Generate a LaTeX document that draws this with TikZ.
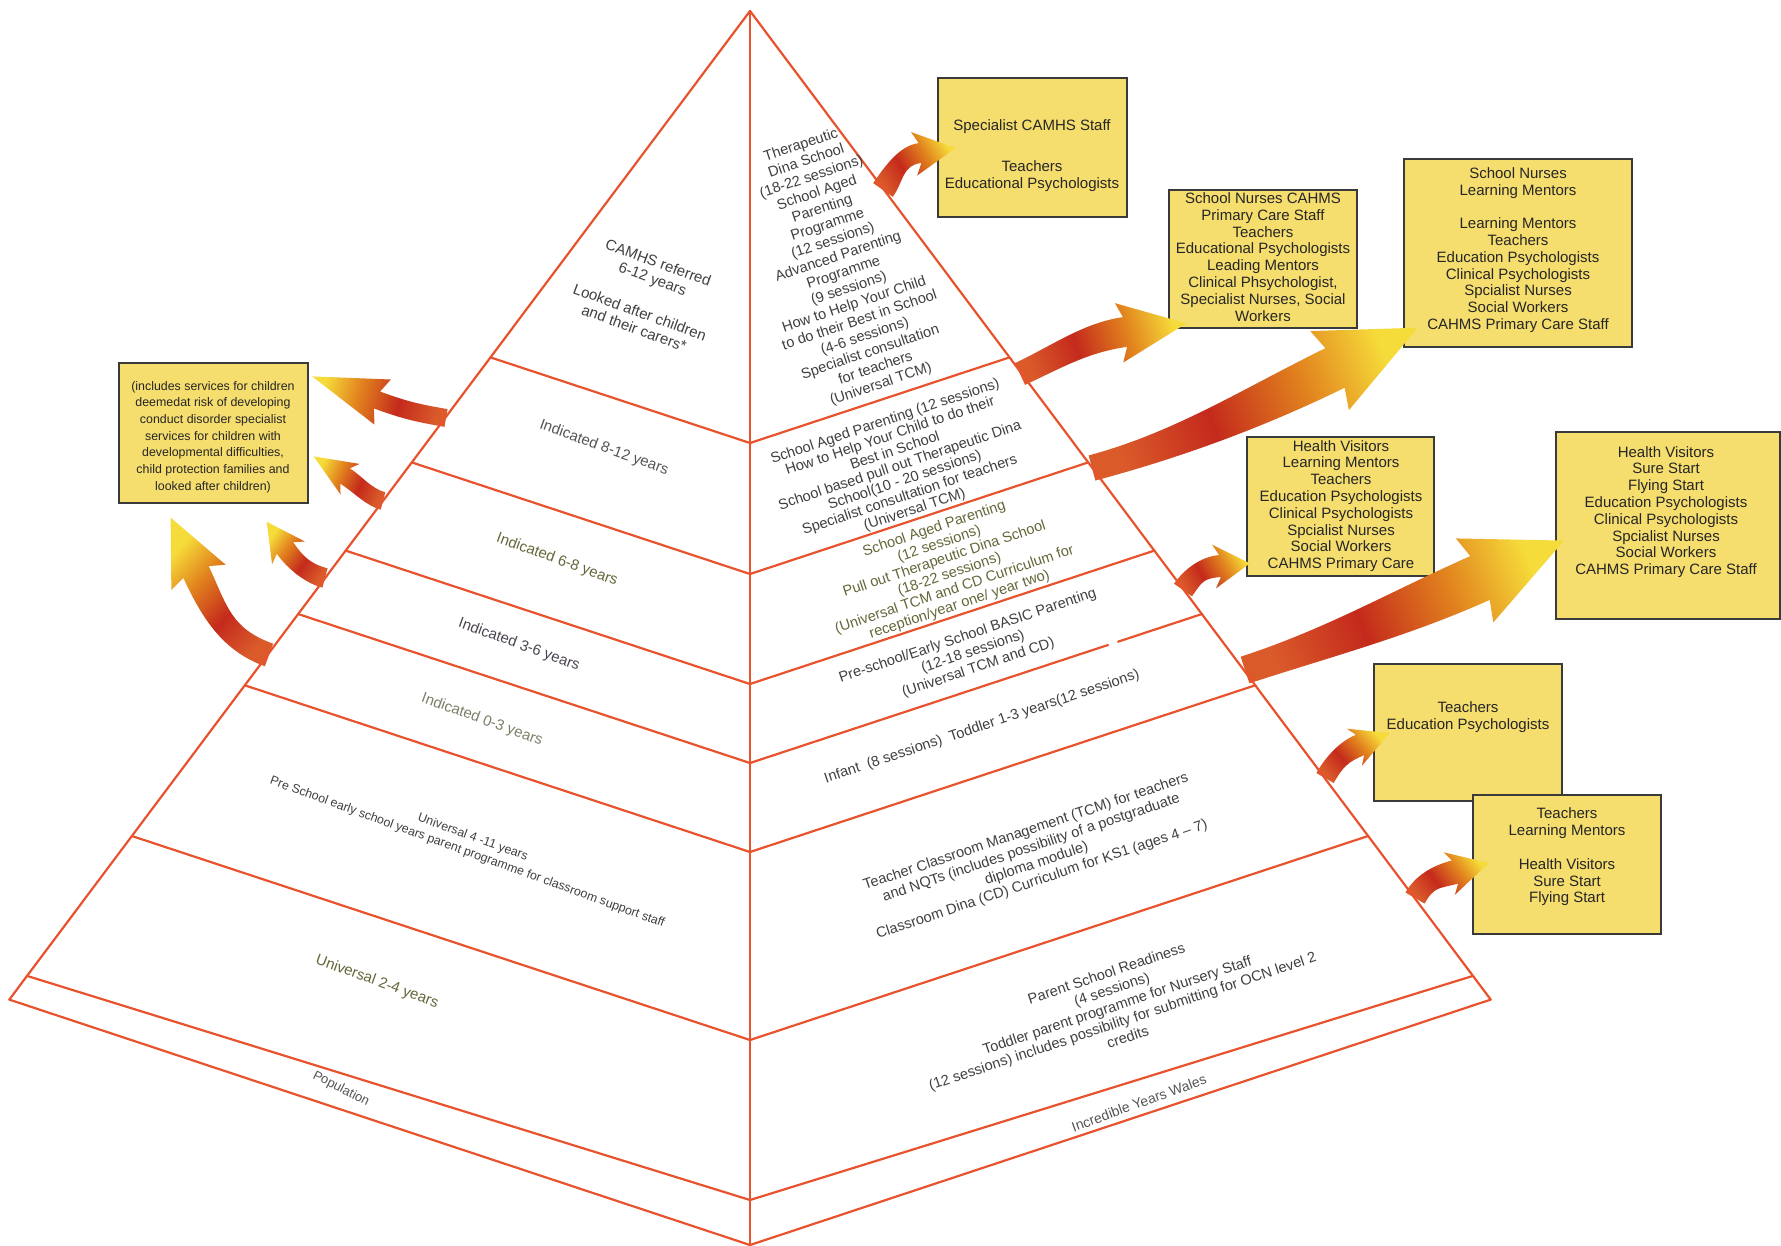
\documentclass[tikz,border=0pt]{standalone}
\usepackage{fontspec}
\setmainfont{Liberation Sans}
\usetikzlibrary{calc}
\definecolor{pyr}{HTML}{E8532E}
\definecolor{boxfill}{HTML}{F5DD6E}
\definecolor{boxline}{HTML}{3A3A3A}
\definecolor{txt}{HTML}{404040}
\definecolor{olivetxt}{HTML}{66663A}
\definecolor{plumtxt}{HTML}{4B4452}
\definecolor{olivegray}{HTML}{7C7F68}
\definecolor{graytxt}{HTML}{555555}
\definecolor{arrbase}{HTML}{DA5A2A}
\definecolor{arrred}{HTML}{C42A1C}
\definecolor{arrorange}{HTML}{E2851E}
\definecolor{arryellow}{HTML}{F6DC3A}
\pgfdeclareverticalshading{arrowshade}{100bp}{color(0bp)=(arrbase); color(25bp)=(arrbase); color(42bp)=(arrred); color(60bp)=(arrorange); color(75bp)=(arryellow); color(100bp)=(arryellow)}
\newcommand\fA{\fontsize{7.5}{8.4}\selectfont}
\newcommand\fR{\fontsize{7.3}{8.4}\selectfont}
\newcommand\cvarrow[9]{%
  \pgfmathsetmacro\shA{-(#2)/2-(#5)/2-90}%
  \shade[shading=arrowshade, shading angle=\shA]
    ($(#1)+(#2-90:#3)$)
    .. controls ($(#1)+(#2:#9)+(#2-90:#3)$) and ($(#4)+(#5+180:#9)+(#5-90:#6)$) ..
    ($(#4)+(#5-90:#6)$)
    -- ($(#4)+(#5-90:#8)+(#5+180:6)$)
    -- ($(#4)+(#5:#7)$)
    -- ($(#4)+(#5+90:#8)+(#5+180:6)$)
    -- ($(#4)+(#5+90:#6)$)
    .. controls ($(#4)+(#5+180:#9)+(#5+90:#6)$) and ($(#1)+(#2:#9)+(#2+90:#3)$) ..
    ($(#1)+(#2+90:#3)$) -- cycle;
}
\begin{document}
\begin{tikzpicture}[x=0.5pt,y=-0.5pt,
  lbl/.style={inner sep=0pt, align=center, text=txt, font=\fA},
  lface/.style={lbl, rotate=-20},
  rface/.style={lbl, rotate=18.5, font=\fR},
  ybox/.style={draw=boxline, fill=boxfill, line width=1.2pt, inner sep=0pt},
  btext/.style={inner sep=0pt, align=center, text=black!85, font=\fA},
  pline/.style={draw=pyr, line width=1.1pt, line cap=round, line join=round}]
\useasboundingbox (0,0) rectangle (1781,1246);
\fill[white] (0,0) rectangle (1781,1246);

% ---------- yellow boxes ----------
\node[ybox, minimum width=94.5pt, minimum height=69.5pt] (boxA) at (1032.5,147.5) {};
\node[btext] (tA) at (1032,156) {Specialist CAMHS Staff\\[12.1pt]Teachers\\Educational Psychologists};
\node[ybox, minimum width=94pt, minimum height=69pt] (boxB) at (1263,259) {};
\node[btext] (tB) at (1263,257) {School Nurses CAHMS\\Primary Care Staff\\Teachers\\Educational Psychologists\\Leading Mentors\\Clinical Phsychologist,\\Specialist Nurses, Social\\Workers};
\node[ybox, minimum width=114pt, minimum height=94pt] (boxC) at (1518,253) {};
\node[btext] (tC) at (1518,250) {School Nurses\\Learning Mentors\\[8.4pt]Learning Mentors\\Teachers\\Education Psychologists\\Clinical Psychologists\\Spcialist Nurses\\Social Workers\\CAHMS Primary Care Staff};
\node[ybox, minimum width=93.5pt, minimum height=69.5pt] (boxD) at (1340.5,506.5) {};
\node[btext] (tD) at (1341,506) {Health Visitors\\Learning Mentors\\Teachers\\Education Psychologists\\Clinical Psychologists\\Spcialist Nurses\\Social Workers\\CAHMS Primary Care};
\node[ybox, minimum width=112pt, minimum height=93.5pt] (boxE) at (1668,525.5) {};
\node[btext] (tE) at (1666,512) {Health Visitors\\Sure Start\\Flying Start\\Education Psychologists\\Clinical Psychologists\\Spcialist Nurses\\Social Workers\\CAHMS Primary Care Staff};
\node[ybox, minimum width=94pt, minimum height=68.5pt] (boxF) at (1468,732.5) {};
\node[btext] (tF) at (1468,717) {Teachers\\Education Psychologists};
\node[ybox, minimum width=94pt, minimum height=69.5pt] (boxG) at (1567,864.5) {};
\node[btext] (tG) at (1567,857) {Teachers\\Learning Mentors\\[8.4pt]Health Visitors\\Sure Start\\Flying Start};
\node[ybox, minimum width=94.5pt, minimum height=70pt] (boxH) at (213.5,433) {};
\node[btext, font=\fontsize{6.2}{8.35}\selectfont] (tH) at (213,437) {(includes services for children\\deemedat risk of developing\\conduct disorder specialist\\services for children with\\developmental difficulties,\\child protection families and\\looked after children)};

% ---------- curved arrows ----------
\cvarrow{883,190}{-55}{12}{920,153}{-8}{10}{36}{22}{20}
\cvarrow{1020,374}{-25}{12}{1125,332}{-8}{15}{62}{30}{40}
\cvarrow{1092,468}{-15}{13}{1335,368}{-26}{22}{92}{44}{90}
\cvarrow{1183,590}{-55}{11}{1220,566}{-5}{11}{30}{22}{18}
\cvarrow{1245,670}{-18}{14}{1480,578}{-24}{24}{92}{46}{90}
\cvarrow{1325,778}{-60}{10}{1360,745}{-22}{11}{32}{20}{18}
\cvarrow{1415,898}{-60}{11}{1455,872}{-15}{12}{35}{22}{20}
\cvarrow{446,418}{190}{9}{377,400}{200}{9}{69}{24}{30}
\cvarrow{383,501}{195}{9}{345,476}{212}{9}{37}{18}{15}
\cvarrow{325,578}{195}{10}{285,548}{235}{10}{32}{20}{18}
\cvarrow{269,655}{200}{12}{196,572}{245}{14}{60}{30}{45}

% ---------- pyramid ----------
\coordinate (apex) at (750,11);
\coordinate (bot) at (750,1246);
\coordinate (Lc) at (9.3,999.6);
\coordinate (Rc) at (1490.7,999.6);
\coordinate (L1) at (490.5,357.4); \coordinate (C1) at (750,443);  \coordinate (R1) at (1009.5,357.4);
\coordinate (L2) at (411.8,462.4); \coordinate (C2) at (750,574);  \coordinate (R2) at (1088.2,462.4);
\coordinate (L3) at (345.7,550.6); \coordinate (C3) at (750,684);  \coordinate (R3) at (1154.3,550.6);
\coordinate (L4) at (298,614);     \coordinate (C4) at (750,763);  \coordinate (R4) at (1202,614);
\coordinate (G4a) at (1108,645);   \coordinate (G4b) at (1118,641.7);
\coordinate (L5) at (244.8,685.3); \coordinate (C5) at (750,852);  \coordinate (R5) at (1255.2,685.3);
\coordinate (L6) at (131.9,836);   \coordinate (C6) at (750,1040); \coordinate (R6) at (1368.1,836);
\coordinate (L7) at (27.1,975.9);  \coordinate (C7) at (750,1200); \coordinate (R7) at (1472.9,975.9);
\coordinate (Cb) at (750,1245);
\draw[pline] (Lc) -- (apex) -- (Rc);
\draw[pline] (apex) -- (bot);
\draw[pline] (Lc) -- (Cb) -- (Rc);
\draw[pline] (L1) -- (C1) -- (R1);
\draw[pline] (L2) -- (C2) -- (R2);
\draw[pline] (L3) -- (C3) -- (R3);
\draw[pline] (L4) -- (C4) -- (G4a);
\draw[pline] (G4b) -- (R4);
\draw[pline] (L5) -- (C5) -- (R5);
\draw[pline] (L6) -- (C6) -- (R6);
\draw[pline] (L7) -- (C7) -- (R7);

% ---------- left face labels ----------
\node[lface] (camhs) at (655,272) {CAMHS referred\\6-12 years};
\node[lface] (lac) at (637,320) {Looked after children\\and their carers*};
\node[lface, text=graytxt] (ind812) at (604,448) {Indicated 8-12 years};
\node[lface, text=olivetxt] (ind68) at (557,560) {Indicated 6-8 years};
\node[lface, text=plumtxt] (ind36) at (519,645) {Indicated 3-6 years};
\node[lface, text=olivegray] (ind03) at (482,720) {Indicated 0-3 years};
\node[lface, font=\fontsize{6.2}{8}\selectfont] (uni411) at (470,845) {Universal 4 -11 years\\Pre School early school years parent programme for classroom support staff};
\node[lface, text=olivetxt] (uni24) at (377,982) {Universal 2-4 years};
\node[lbl, rotate=-27, font=\fontsize{6.5}{7}\selectfont, text=graytxt] (pop) at (341,1089) {Population};

% ---------- right face labels ----------
\node[rface] (r1) at (841,265) {Therapeutic\\Dina School\\(18-22 sessions)\\School Aged\\Parenting\\Programme\\(12 sessions)\\Advanced Parenting\\Programme\\(9 sessions)\\How to Help Your Child\\to do their Best in School\\(4-6 sessions)\\Specialist consultation\\for teachers\\(Universal TCM)};
\node[rface, font=\fontsize{7.3}{7.75}\selectfont] (r2) at (900,466) {School Aged Parenting (12 sessions)\\How to Help Your Child to do their\\Best in School\\School based pull out Therapeutic Dina\\School(10 - 20 sessions)\\Specialist consultation for teachers\\(Universal TCM)};
\node[rface, text=olivetxt, font=\fontsize{7.3}{8}\selectfont] (r3) at (947,567) {School Aged Parenting\\(12 sessions)\\Pull out Therapeutic Dina School\\(18-22 sessions)\\(Universal TCM and CD Curriculum for\\reception/year one/ year two)};
\node[rface] (r4) at (973,652) {Pre-school/Early School BASIC Parenting\\(12-18 sessions)\\(Universal TCM and CD)};
\node[rface] (r5) at (982,727) {Infant\ \ (8 sessions)\ \ Toddler 1-3 years(12 sessions)};
\node[rface] (r6) at (1034,856) {Teacher Classroom Management (TCM) for teachers\\and NQTs (includes possibility of a postgraduate\\diploma module)\\Classroom Dina (CD) Curriculum for KS1 (ages 4 – 7)};
\node[rface] (r7) at (1117,1005) {Parent School Readiness\\(4 sessions)\\Toddler parent programme for Nursery Staff\\(12 sessions) includes possibility for submitting for OCN level 2\\credits};
\node[lbl, rotate=20, font=\fontsize{7}{8}\selectfont, text=graytxt] (iyw) at (1139,1103) {Incredible Years Wales};
\end{tikzpicture}
\end{document}
